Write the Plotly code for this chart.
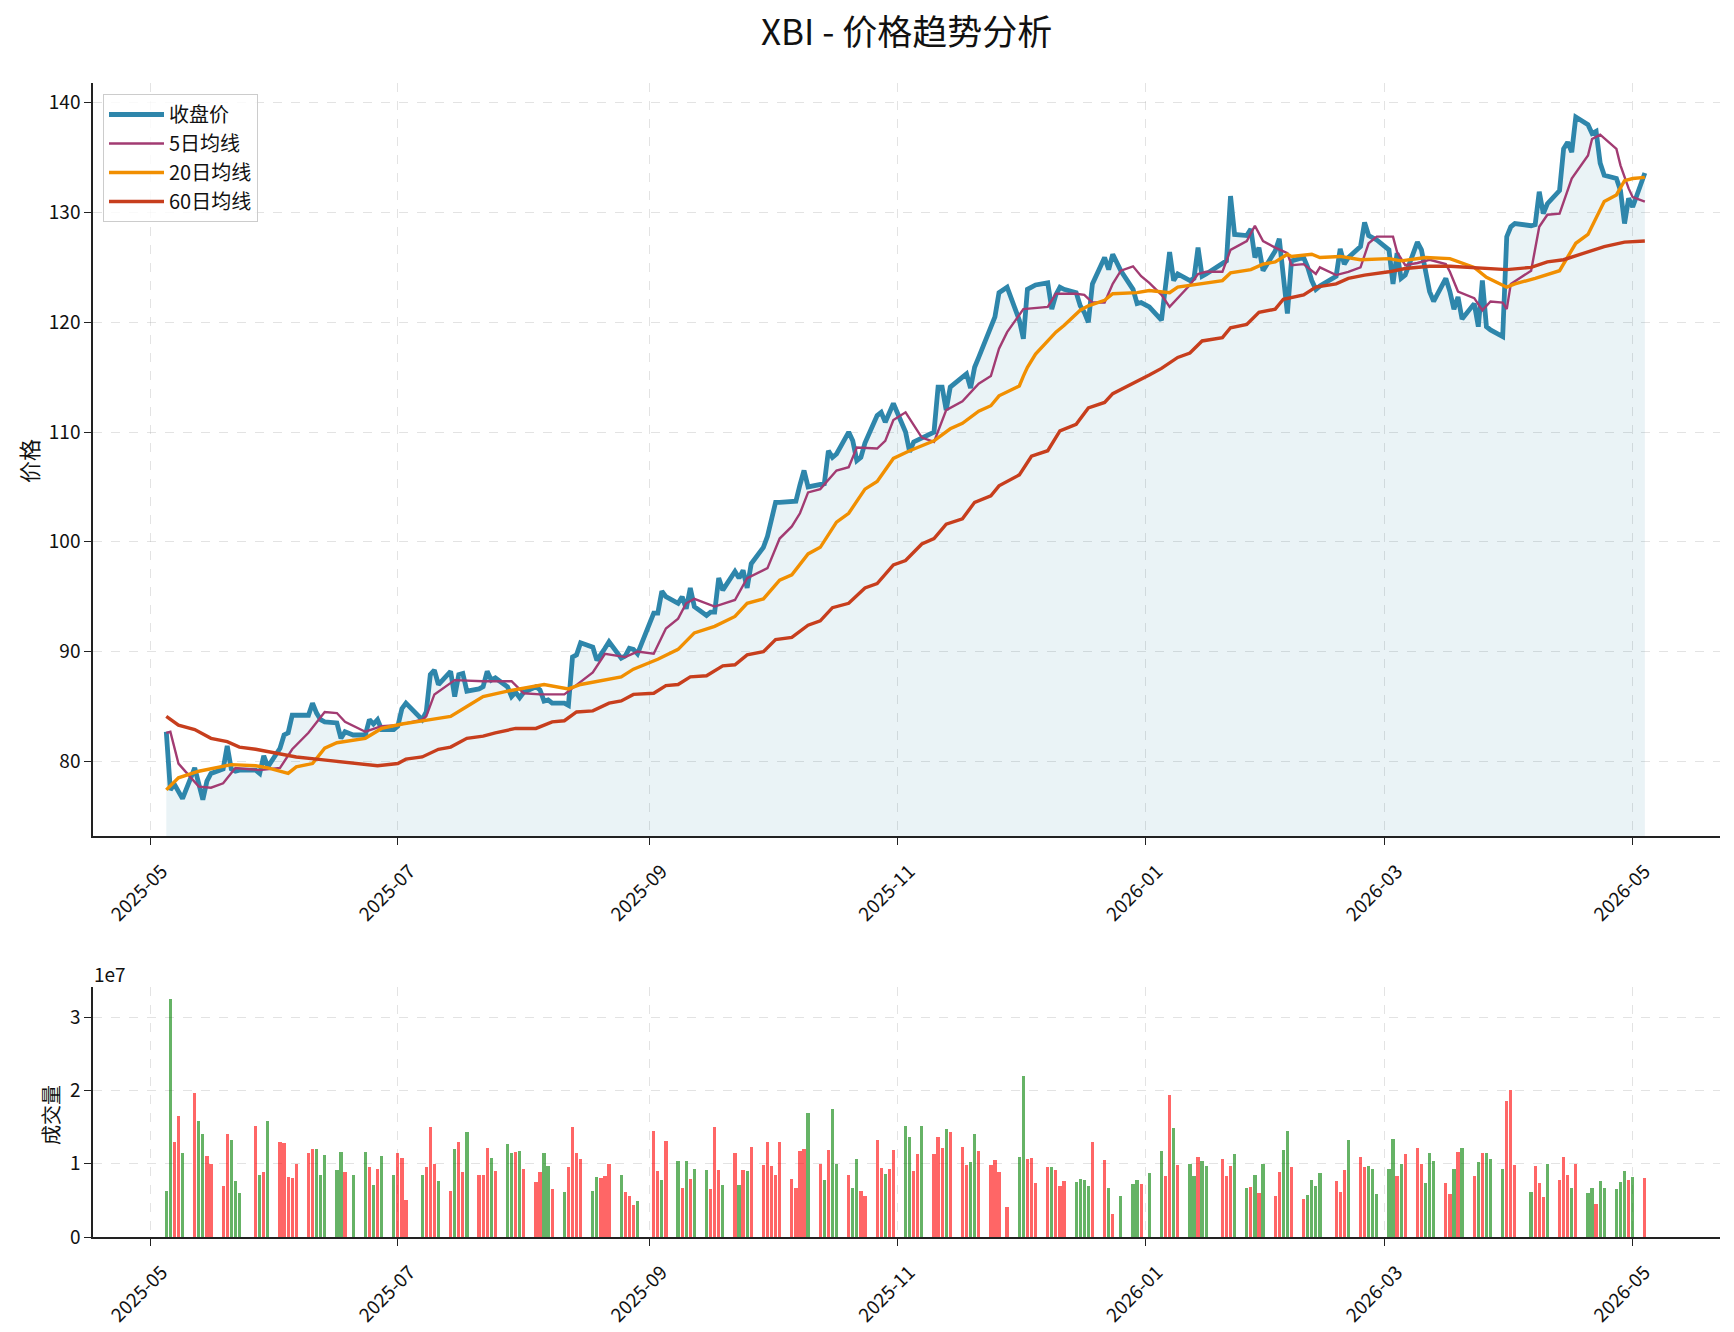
import pandas as pd
import plotly.graph_objects as go

# ---------------- data ----------------
start_date = "2025-05-05"
end_date = "2026-05-04"
market_holidays = ["2025-05-26", "2025-06-19", "2025-07-04", "2025-09-01", "2025-11-27",
                   "2025-12-25", "2026-01-01", "2026-01-19", "2026-02-16", "2026-04-03"]

# closing price, one list per trading week
close_weeks = [
    [82.7, 77.4, 77.9, 77.2, 76.6], [79.4, 78.0, 76.5, 78.2, 78.9], [79.3, 81.4, 79.3, 79.1, 79.2],
    [79.2, 78.9, 80.5, 79.5], [81.2, 82.4, 82.6, 84.2, 84.2], [84.2, 85.3, 84.4, 83.8, 83.6],
    [83.5, 82.1, 82.7, 82.4], [82.4, 83.8, 83.4, 83.8, 82.9], [82.9, 83.2, 84.8, 85.3],
    [83.8, 84.5, 87.9, 88.3, 87.0], [88.2, 85.9, 87.9, 88.0, 86.4], [86.6, 86.8, 88.2, 87.4, 87.6],
    [86.8, 85.9, 86.3, 85.8, 86.3], [86.8, 86.5, 85.5, 85.6, 85.3], [85.3, 85.1, 89.5, 89.7, 90.8],
    [90.4, 89.2, 89.7, 90.3, 90.9], [89.4, 89.6, 90.3, 90.2, 89.8], [93.5, 93.5, 95.5, 95.0],
    [94.4, 95.0, 93.9, 95.8, 94.1], [93.3, 93.6, 93.6, 96.7, 95.6], [97.3, 96.7, 97.4, 95.8, 98.0],
    [99.5, 100.5, 102.0, 103.6, 103.6], [103.6, 103.7, 105.2, 106.5, 105.0],
    [105.2, 105.3, 108.3, 107.7, 108.0], [110.0, 109.2, 107.4, 107.7, 109.0],
    [111.5, 111.8, 110.9, 111.8, 112.6], [110.0, 108.2, 109.1, 109.3, 109.4],
    [110.0, 114.1, 114.1, 112.0, 114.1], [115.0, 115.3, 114.0, 115.9, 116.8],
    [119.5, 120.5, 122.7, 123.2], [120.2, 118.5, 123.0, 123.2, 123.4],
    [123.6, 121.2, 122.5, 123.2, 123.0], [122.7, 121.5, 120.9, 120.0, 123.5],
    [125.9, 124.8, 126.2, 124.7], [123.0, 121.7, 121.8, 121.4], [120.2, 123.0, 126.4, 123.8, 124.4],
    [123.8, 124.0, 126.8, 124.2, 124.4], [125.3, 125.6, 131.5, 128.0],
    [127.9, 128.5, 125.9, 126.8, 124.7], [126.5, 127.6, 124.4, 120.8, 125.6],
    [125.9, 125.0, 123.8, 123.0, 123.3], [124.2, 126.7, 125.3, 125.9],
    [126.9, 129.1, 127.9, 127.7, 127.5], [126.6, 123.5, 126.3, 124.0, 124.3],
    [127.3, 126.6, 124.5, 122.8, 121.9], [124.0, 122.8, 121.2, 122.3, 120.3],
    [121.7, 119.6, 123.8, 119.6, 119.3], [118.7, 127.8, 128.7, 129.0],
    [128.8, 128.9, 131.9, 129.9, 130.8], [132.0, 135.8, 136.4, 135.5, 138.7],
    [138.0, 137.2, 137.4, 134.5, 133.4], [133.1, 132.0, 129.0, 131.3, 130.5], [133.6],
]

# volume in millions of shares, one list per trading week
volume_weeks_m = [
    [6.3, 32.5, 13.0, 16.5, 11.4], [19.6, 15.8, 14.0, 11.1, 10.0], [7.0, 14.0, 13.2, 7.7, 6.0],
    [15.2, 8.4, 8.9, 15.8], [13.0, 12.8, 8.2, 8.1, 10.0], [11.5, 12.0, 12.0, 8.4, 11.2],
    [9.2, 11.6, 8.9, 8.5], [11.6, 9.6, 7.1, 9.3, 11.0], [8.5, 11.5, 10.8, 5.0],
    [8.5, 9.6, 15.0, 9.9, 7.7], [6.3, 12.0, 13.0, 8.9, 14.3], [8.4, 8.4, 12.2, 10.8, 9.0],
    [12.7, 11.5, 11.6, 11.7, 9.3], [7.5, 8.9, 11.5, 9.7, 6.6], [6.2, 9.6, 15.0, 11.5, 10.7],
    [6.3, 8.2, 8.0, 8.3, 9.9], [8.5, 6.2, 5.6, 4.4, 4.9], [14.5, 9.0, 7.8, 13.1],
    [10.4, 6.7, 10.4, 7.9, 9.3], [9.2, 6.5, 15.0, 9.2, 7.1], [11.4, 7.1, 9.2, 9.0, 12.3],
    [9.8, 12.9, 9.7, 8.5, 12.9], [7.9, 6.7, 11.7, 12.0, 16.9], [10.0, 7.8, 11.9, 17.4, 10.0],
    [8.5, 6.7, 10.6, 6.3, 5.6], [13.2, 9.4, 8.6, 9.3, 11.8], [15.1, 13.6, 9.0, 11.3, 15.1],
    [11.3, 13.6, 12.2, 14.7, 14.3], [12.3, 9.8, 10.2, 14.0, 11.7], [9.8, 10.5, 8.8, 4.1],
    [10.9, 22.0, 10.7, 10.8, 7.4], [9.6, 9.6, 9.2, 7.0, 7.6], [7.5, 7.9, 7.8, 7.0, 13.0],
    [10.5, 6.7, 3.1, 5.6], [7.2, 7.8, 7.2, 8.7], [11.7, 8.3, 19.4, 14.9, 9.8],
    [10.0, 8.3, 10.9, 10.4, 9.7], [10.6, 8.3, 9.7, 11.3], [6.7, 6.8, 8.5, 6.0, 10.0],
    [5.6, 8.9, 11.8, 14.5, 9.5], [5.2, 5.7, 7.8, 6.9, 8.7], [7.7, 6.2, 9.2, 13.2],
    [10.9, 9.5, 9.7, 9.3, 5.9], [9.3, 13.4, 8.3, 10.0, 11.3], [12.1, 10.0, 7.3, 11.4, 10.4],
    [7.3, 5.9, 9.3, 11.6, 12.1], [8.3, 10.2, 11.5, 11.5, 10.6], [9.3, 18.5, 20.0, 9.8],
    [6.2, 9.7, 7.4, 5.5, 10.0], [7.8, 10.9, 8.5, 6.7, 10.0], [6.0, 6.7, 4.5, 7.7, 6.7],
    [6.6, 7.5, 9.0, 7.8, 8.2], [8.0],
]

# day direction (u = up day / red bar, d = down day / green bar), one string per trading week
direction_weeks = [
    "dduud", "udduu", "uuddd", "udud", "uuuuu", "uuddd", "ddud", "dudud", "duuu",
    "duuud", "uduud", "uuudu", "ddudu", "uuddu", "duuuu", "dduuu", "duuud", "uudu",
    "dudud", "duuud", "ududu", "uuuuu", "uuuud", "ududd", "udduu", "uuduu", "dduud",
    "uuudu", "uuddu", "uuuu", "dduuu", "uduuu", "ddddu", "udud", "ddud", "duudu",
    "ddudd", "uuud", "dudud", "uuddu", "udddd", "uuud", "uuddd", "ddudu", "uuddd",
    "uudud", "ududd", "duuu", "duuud", "uuudu", "ddudd", "dddud", "u",
]

ma5_dates = ["2025-05-05", "2025-05-06", "2025-05-08", "2025-05-13", "2025-05-16", "2025-05-19",
             "2025-05-22", "2025-05-28", "2025-06-02", "2025-06-05", "2025-06-09", "2025-06-13",
             "2025-06-16", "2025-06-18", "2025-06-23", "2025-06-27", "2025-07-01", "2025-07-07",
             "2025-07-08", "2025-07-10", "2025-07-15", "2025-07-22", "2025-07-29", "2025-08-01",
             "2025-08-05", "2025-08-08", "2025-08-11", "2025-08-18", "2025-08-21", "2025-08-26",
             "2025-08-29", "2025-09-02", "2025-09-05", "2025-09-08", "2025-09-10", "2025-09-12",
             "2025-09-17", "2025-09-22", "2025-09-25", "2025-09-30", "2025-10-03", "2025-10-06",
             "2025-10-08", "2025-10-10", "2025-10-13", "2025-10-17", "2025-10-20", "2025-10-22",
             "2025-10-27", "2025-10-29", "2025-10-31", "2025-11-03", "2025-11-05", "2025-11-07",
             "2025-11-10", "2025-11-13", "2025-11-17", "2025-11-21", "2025-11-24", "2025-11-26",
             "2025-11-28", "2025-12-02", "2025-12-08", "2025-12-10", "2025-12-15", "2025-12-17",
             "2025-12-19", "2025-12-22", "2025-12-24", "2025-12-26", "2025-12-29", "2025-12-31",
             "2026-01-02", "2026-01-05", "2026-01-07", "2026-01-12", "2026-01-14", "2026-01-16",
             "2026-01-20", "2026-01-22", "2026-01-26", "2026-01-28", "2026-01-30", "2026-02-02",
             "2026-02-05", "2026-02-06", "2026-02-09", "2026-02-12", "2026-02-13", "2026-02-17",
             "2026-02-20", "2026-02-23", "2026-02-25", "2026-02-27", "2026-03-03", "2026-03-04",
             "2026-03-06", "2026-03-09", "2026-03-12", "2026-03-16", "2026-03-17", "2026-03-19",
             "2026-03-23", "2026-03-25", "2026-03-27", "2026-03-30", "2026-03-31", "2026-04-01",
             "2026-04-06", "2026-04-08", "2026-04-10", "2026-04-13", "2026-04-16", "2026-04-20",
             "2026-04-21", "2026-04-23", "2026-04-27", "2026-04-28", "2026-04-30", "2026-05-01",
             "2026-05-04"]
ma5_values = [82.6, 82.7, 79.8, 77.7, 77.6, 78.0, 79.4, 79.2, 79.4, 81.1, 82.6, 84.5,
              84.4, 83.6, 82.7, 83.2, 83.3, 83.8, 84.1, 86.1, 87.4, 87.3, 87.3, 86.2,
              86.1, 86.1, 86.1, 88.1, 89.8, 89.5, 90.0, 89.8, 92.1, 93.0, 94.4, 94.8,
              94.1, 94.7, 96.7, 97.6, 100.3, 101.4, 102.6, 104.5, 104.8, 106.5, 106.8, 108.6,
              108.5, 109.2, 111.1, 111.8, 110.6, 109.5, 109.1, 112.0, 112.8, 114.4, 115.1, 117.6,
              119.1, 121.2, 121.4, 122.6, 122.6, 122.5, 121.8, 121.8, 123.5, 124.7, 125.1, 124.2,
              123.6, 122.5, 121.4, 123.4, 124.4, 124.6, 124.6, 126.6, 127.4, 128.8, 127.4, 126.8,
              126.3, 125.2, 125.3, 124.4, 125.0, 124.3, 124.6, 125.0, 127.2, 127.8, 127.8, 126.4,
              125.2, 125.4, 125.7, 125.3, 124.6, 122.8, 122.2, 121.1, 121.9, 121.8, 121.2, 123.5,
              124.7, 128.7, 129.8, 129.9, 133.1, 135.2, 136.7, 137.1, 135.8, 134.3, 132.2, 131.4,
              131.0]

ma20_dates = ["2025-05-05", "2025-05-08", "2025-05-13", "2025-05-21", "2025-05-27", "2025-05-30",
              "2025-06-04", "2025-06-06", "2025-06-10", "2025-06-13", "2025-06-16", "2025-06-23",
              "2025-06-27", "2025-07-02", "2025-07-09", "2025-07-14", "2025-07-18", "2025-07-22",
              "2025-07-28", "2025-08-01", "2025-08-06", "2025-08-12", "2025-08-15", "2025-08-25",
              "2025-08-28", "2025-09-03", "2025-09-08", "2025-09-12", "2025-09-17", "2025-09-22",
              "2025-09-25", "2025-09-29", "2025-10-03", "2025-10-06", "2025-10-10", "2025-10-13",
              "2025-10-17", "2025-10-20", "2025-10-24", "2025-10-27", "2025-10-31", "2025-11-04",
              "2025-11-10", "2025-11-14", "2025-11-17", "2025-11-21", "2025-11-24", "2025-11-26",
              "2025-12-01", "2025-12-02", "2025-12-03", "2025-12-05", "2025-12-10", "2025-12-12",
              "2025-12-16", "2025-12-18", "2025-12-22", "2025-12-24", "2025-12-30", "2026-01-02",
              "2026-01-07", "2026-01-09", "2026-01-14", "2026-01-20", "2026-01-22", "2026-01-27",
              "2026-01-30", "2026-02-02", "2026-02-05", "2026-02-06", "2026-02-11", "2026-02-13",
              "2026-02-18", "2026-02-23", "2026-03-02", "2026-03-05", "2026-03-11", "2026-03-17",
              "2026-03-23", "2026-03-26", "2026-03-31", "2026-04-02", "2026-04-07", "2026-04-13",
              "2026-04-17", "2026-04-20", "2026-04-24", "2026-04-27", "2026-04-29", "2026-05-01",
              "2026-05-04"]
ma20_values = [77.4, 78.5, 79.1, 79.7, 79.6, 79.4, 78.9, 79.5, 79.8, 81.2, 81.7, 82.1,
               83.0, 83.4, 83.8, 84.1, 85.0, 85.9, 86.4, 86.7, 87.0, 86.6, 87.0, 87.7,
               88.4, 89.3, 90.2, 91.7, 92.3, 93.2, 94.4, 94.8, 96.5, 97.0, 98.9, 99.5,
               101.8, 102.6, 104.8, 105.5, 107.6, 108.3, 109.2, 110.3, 110.8, 111.9, 112.4, 113.3,
               114.2, 115.1, 115.9, 117.1, 119.1, 119.7, 121.1, 121.5, 122.0, 122.6, 122.7, 122.9,
               122.7, 123.2, 123.5, 123.8, 124.5, 124.8, 125.3, 125.5, 126.2, 126.0, 126.2, 125.9,
               126.0, 125.7, 125.8, 125.6, 125.9, 125.8, 125.0, 124.1, 123.2, 123.5, 124.0, 124.7,
               127.2, 128.0, 131.0, 131.6, 132.9, 133.1, 133.2]

ma60_dates = ["2025-05-05", "2025-05-08", "2025-05-12", "2025-05-16", "2025-05-20", "2025-05-23",
              "2025-05-27", "2025-06-02", "2025-06-06", "2025-06-11", "2025-06-16", "2025-06-20",
              "2025-06-26", "2025-07-01", "2025-07-03", "2025-07-07", "2025-07-11", "2025-07-14",
              "2025-07-18", "2025-07-22", "2025-07-25", "2025-07-30", "2025-08-04", "2025-08-08",
              "2025-08-11", "2025-08-14", "2025-08-18", "2025-08-22", "2025-08-25", "2025-08-28",
              "2025-09-02", "2025-09-05", "2025-09-08", "2025-09-11", "2025-09-15", "2025-09-19",
              "2025-09-22", "2025-09-25", "2025-09-29", "2025-10-02", "2025-10-06", "2025-10-10",
              "2025-10-13", "2025-10-16", "2025-10-20", "2025-10-24", "2025-10-27", "2025-10-31",
              "2025-11-03", "2025-11-07", "2025-11-10", "2025-11-13", "2025-11-17", "2025-11-20",
              "2025-11-24", "2025-11-26", "2025-12-01", "2025-12-04", "2025-12-08", "2025-12-11",
              "2025-12-15", "2025-12-18", "2025-12-22", "2025-12-24", "2025-12-29", "2026-01-02",
              "2026-01-05", "2026-01-09", "2026-01-12", "2026-01-15", "2026-01-20", "2026-01-22",
              "2026-01-26", "2026-01-29", "2026-02-02", "2026-02-04", "2026-02-09", "2026-02-12",
              "2026-02-17", "2026-02-20", "2026-02-24", "2026-03-02", "2026-03-06", "2026-03-12",
              "2026-03-17", "2026-03-23", "2026-03-31", "2026-04-06", "2026-04-10", "2026-04-14",
              "2026-04-20", "2026-04-24", "2026-04-29", "2026-05-04"]
ma60_values = [84.1, 83.3, 82.9, 82.1, 81.8, 81.3, 81.1, 80.7, 80.4, 80.2, 80.0, 79.8,
               79.6, 79.8, 80.2, 80.4, 81.1, 81.3, 82.1, 82.3, 82.6, 83.0, 83.0, 83.6,
               83.7, 84.5, 84.6, 85.3, 85.5, 86.1, 86.2, 86.9, 87.0, 87.7, 87.8, 88.7,
               88.8, 89.7, 90.0, 91.1, 91.3, 92.4, 92.8, 94.0, 94.4, 95.8, 96.2, 97.9,
               98.3, 99.8, 100.3, 101.6, 102.1, 103.6, 104.2, 105.1, 106.1, 107.8, 108.3, 110.1,
               110.7, 112.2, 112.7, 113.5, 114.4, 115.2, 115.8, 116.8, 117.2, 118.3, 118.6, 119.5,
               119.8, 120.9, 121.2, 122.1, 122.5, 123.2, 123.5, 124.0, 124.3, 124.6, 124.9, 125.1,
               125.1, 125.0, 124.8, 125.0, 125.5, 125.7, 126.4, 126.9, 127.3, 127.4]

price_ticks = [80, 90, 100, 110, 120, 130, 140]
volume_ticks = [0, 1, 2, 3]

# ---------------- assemble ----------------
trade_dates = [d for d in pd.bdate_range(start_date, end_date)
               if d.strftime("%Y-%m-%d") not in market_holidays]
close = [v for w in close_weeks for v in w]
volume = [v * 1e6 for w in volume_weeks_m for v in w]
direction = "".join(direction_weeks)
n = min(len(trade_dates), len(close), len(volume), len(direction))
trade_dates, close, volume, direction = trade_dates[:n], close[:n], volume[:n], direction[:n]

UP_COLOR = "rgba(255,0,0,0.6)"
DOWN_COLOR = "rgba(0,128,0,0.6)"
bar_colors = [UP_COLOR if c == "u" else DOWN_COLOR for c in direction]

FONT = "Noto Sans CJK SC, Noto Sans, sans-serif"
W, H = 1734, 1332
x_dom = [93 / W, 1720 / W]
top_dom = [1 - 836 / H, 1 - 83 / H]
bot_dom = [1 - 1237 / H, 1 - 987 / H]
x_range = ["2025-04-16 23:00", "2026-05-22 12:00"]

fig = go.Figure()

fig.add_trace(go.Scatter(x=trade_dates, y=close, mode="lines", line=dict(width=0),
                         fill="tozeroy", fillcolor="rgba(46,134,171,0.1)",
                         showlegend=False, hoverinfo="skip", xaxis="x", yaxis="y"))
fig.add_trace(go.Scatter(x=trade_dates, y=close, mode="lines", name="收盘价",
                         line=dict(color="#2E86AB", width=4.8), xaxis="x", yaxis="y"))
fig.add_trace(go.Scatter(x=pd.to_datetime(ma5_dates), y=ma5_values, mode="lines", name="5日均线",
                         line=dict(color="#A23B72", width=2.4), xaxis="x", yaxis="y"))
fig.add_trace(go.Scatter(x=pd.to_datetime(ma20_dates), y=ma20_values, mode="lines", name="20日均线",
                         line=dict(color="#F18F01", width=3.4), xaxis="x", yaxis="y"))
fig.add_trace(go.Scatter(x=pd.to_datetime(ma60_dates), y=ma60_values, mode="lines", name="60日均线",
                         line=dict(color="#C73E1D", width=3.4), xaxis="x", yaxis="y"))

fig.add_trace(go.Bar(x=trade_dates, y=volume, marker=dict(color=bar_colors, line=dict(width=0)),
                     width=0.8 * 86400000, showlegend=False, xaxis="x2", yaxis="y2"))

axis_common = dict(showline=True, linecolor="#222222", linewidth=1.5, ticks="outside",
                   ticklen=7, tickwidth=1.3, tickcolor="#222222", zeroline=False, automargin=False,
                   showgrid=True, gridcolor="rgba(170,170,170,0.33)", griddash="dash", gridwidth=1.2,
                   tickfont=dict(family=FONT, size=19, color="#111111"))
xaxis_common = dict(type="date", range=x_range, tickformat="%Y-%m", dtick="M2",
                    tick0="2025-05-01", tickangle=-45, domain=x_dom,
                    ticklabelshift=12, ticklabelstandoff=8, **axis_common)

fig.update_layout(
    width=W, height=H, margin=dict(l=0, r=0, t=0, b=0, autoexpand=False),
    paper_bgcolor="white", plot_bgcolor="white",
    font=dict(family=FONT, color="#111111"),
    xaxis=dict(anchor="y", **xaxis_common),
    yaxis=dict(domain=top_dom, anchor="x", range=[73.2, 141.8], tickvals=price_ticks, **axis_common),
    xaxis2=dict(anchor="y2", **xaxis_common),
    yaxis2=dict(domain=bot_dom, anchor="x2", range=[0, 3.41e7],
                tickvals=[t * 1e7 for t in volume_ticks], ticktext=[str(t) for t in volume_ticks],
                **axis_common),
    legend=dict(x=103 / W, y=1 - 94 / H, xanchor="left", yanchor="top",
                bgcolor="rgba(255,255,255,0.8)", bordercolor="#cccccc", borderwidth=1,
                font=dict(family=FONT, size=20, color="#111111"), tracegroupgap=4,
                itemwidth=55),
    bargap=0,
    showlegend=True,
)

fig.add_annotation(text="XBI - 价格趋势分析", xref="paper", yref="paper",
                   x=906.5 / W, y=1 - 30 / H, xanchor="center", yanchor="middle",
                   showarrow=False, font=dict(family=FONT, size=35, color="#111111"))
fig.add_annotation(text="价格", xref="paper", yref="paper", x=28 / W, y=1 - 461 / H,
                   xanchor="center", yanchor="middle", textangle=-90, showarrow=False,
                   font=dict(family=FONT, size=22, color="#111111"))
fig.add_annotation(text="成交量", xref="paper", yref="paper", x=50 / W, y=1 - 1115 / H,
                   xanchor="center", yanchor="middle", textangle=-90, showarrow=False,
                   font=dict(family=FONT, size=20, color="#111111"))
fig.add_annotation(text="1e7", xref="paper", yref="paper", x=92 / W, y=1 - 973 / H,
                   xanchor="left", yanchor="middle", showarrow=False,
                   font=dict(family=FONT, size=19, color="#111111"))

fig.write_html("out.html")
